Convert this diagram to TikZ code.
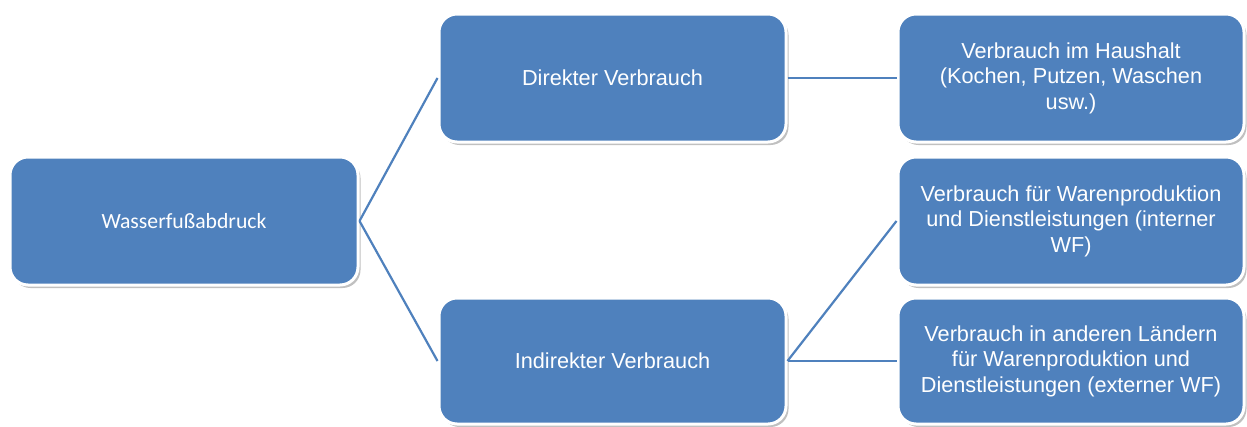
\documentclass[tikz,border=0pt]{standalone}
\usepackage{fontspec}
\setmainfont{Liberation Sans}
\newfontfamily\calib{Carlito}
\usetikzlibrary{shadows}
\definecolor{boxblue}{HTML}{4F81BD}
\begin{document}
\begin{tikzpicture}[x=1pt,y=-1pt,
  box/.style={rectangle, rounded corners=18pt, fill=boxblue, draw=white, line width=3pt,
    text=white, align=center, inner sep=0pt,
    font=\fontsize{21.7}{25.5}\selectfont,
    drop shadow={shadow xshift=2.5pt, shadow yshift=-3pt, opacity=0.35, fill=black!70}},
  link/.style={draw=boxblue, line width=2.2pt}]
\useasboundingbox (0,0) rectangle (1247,426);
\fill[white] (0,0) rectangle (1247,426);
\node[box, minimum width=348pt, minimum height=128pt, font=\calib\fontsize{21.7}{25.5}\selectfont] (root) at (184,221) {Wasserfußabdruck};
\node[box, minimum width=347pt, minimum height=128pt] (dir) at (612.5,78) {Direkter Verbrauch};
\node[box, minimum width=347pt, minimum height=126pt] (ind) at (612.5,361) {Indirekter Verbrauch};
\node[box, minimum width=346pt, minimum height=128pt] (haus) at (1071,78) {Verbrauch im Haushalt\\(Kochen, Putzen, Waschen\\usw.)};
\node[box, minimum width=346pt, minimum height=128pt] (int) at (1071,221) {Verbrauch für Warenproduktion\\und Dienstleistungen (interner\\WF)};
\node[box, minimum width=346pt, minimum height=126pt] (ext) at (1071,361) {Verbrauch in anderen Ländern\\für Warenproduktion und\\Dienstleistungen (externer WF)};
\draw[link] (root.east) -- (dir.west);
\draw[link] (root.east) -- (ind.west);
\draw[link] (dir.east) -- (haus.west);
\draw[link] (ind.east) -- (int.west);
\draw[link] (ind.east) -- (ext.west);
\end{tikzpicture}
\end{document}
